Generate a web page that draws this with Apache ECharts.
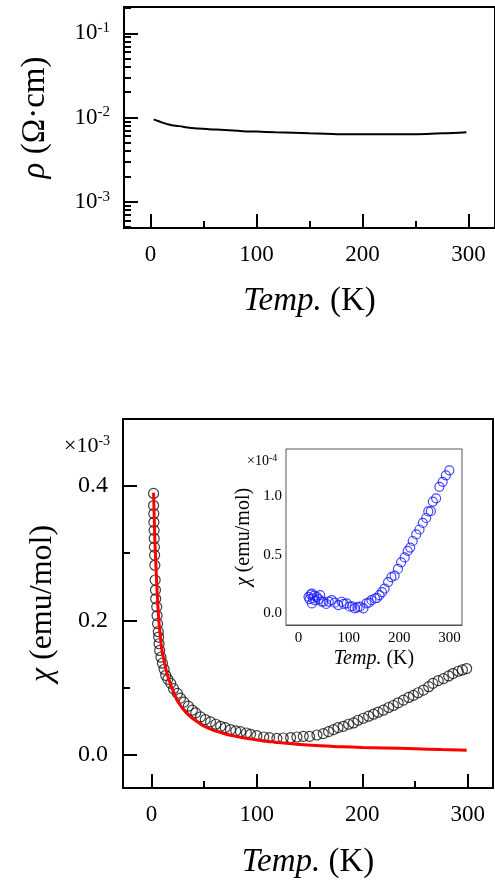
<!DOCTYPE html>
<html>
<head>
<meta charset="utf-8">
<script src="https://cdn.jsdelivr.net/npm/echarts@6.0.0/dist/echarts.min.js"></script>
<style>
html, body { margin: 0; padding: 0; background: #fff; }
#chart { width: 495px; height: 880px; }
</style>
</head>
<body>
<div id="chart"></div>
<script>
// resistivity vs temperature (top panel)
const rhoTemp = [3, 5, 10, 15, 20, 27, 35, 45, 55, 70, 87, 100, 118, 135, 150, 165, 181, 200, 212, 230, 244, 260, 269, 285, 298];
const rhoValue = [0.0095, 0.0093, 0.0088, 0.0084, 0.0081, 0.0079, 0.0076, 0.0074, 0.00726, 0.0071, 0.00687, 0.0068, 0.00668, 0.0066, 0.00651, 0.00643, 0.00634, 0.00632, 0.00632, 0.00632, 0.00633, 0.00638, 0.00645, 0.00655, 0.00668];

// susceptibility (x10^-3), open black circles
const chiTemp = [2, 2, 2.2, 2.3, 2.5, 2.6, 2.8, 3, 3.2, 3.5, 3.8, 4, 5, 5.3, 5.8, 6.5, 6.8, 7.2, 7.8, 9, 10.4, 12, 13.5, 15.5, 18.3, 21, 24.6, 27.5, 30.8, 35, 38.8, 42, 46.6, 51, 56, 61, 65.6, 70, 75, 80, 84.5, 90, 94, 100, 106.5, 112, 119, 125, 132, 138, 144, 150, 157, 163, 168, 172.8, 177, 182, 187, 191.7, 196, 201, 206, 210.6, 215, 220, 225, 229.5, 234, 239, 244, 248.5, 253, 258, 263, 267, 272, 277, 282, 286, 291, 295, 299];
const chiValue = [0.389, 0.371, 0.359, 0.346, 0.334, 0.322, 0.309, 0.297, 0.282, 0.26, 0.245, 0.232, 0.22, 0.207, 0.195, 0.183, 0.175, 0.165, 0.155, 0.145, 0.136, 0.127, 0.118, 0.112, 0.106, 0.098, 0.091, 0.084, 0.078, 0.072, 0.066, 0.062, 0.056, 0.052, 0.0486, 0.045, 0.042, 0.04, 0.037, 0.035, 0.034, 0.032, 0.03, 0.028, 0.026, 0.025, 0.024, 0.0245, 0.025, 0.026, 0.027, 0.027, 0.029, 0.031, 0.034, 0.037, 0.04, 0.042, 0.045, 0.047, 0.051, 0.054, 0.057, 0.06, 0.063, 0.066, 0.07, 0.073, 0.077, 0.081, 0.085, 0.088, 0.092, 0.096, 0.101, 0.106, 0.11, 0.113, 0.117, 0.1206, 0.124, 0.126, 0.128];

// fit curve (red)
const fitTemp = [2, 3, 4, 5, 6, 7, 8.5, 10, 12, 14, 16.7, 20, 23, 27, 32.5, 38, 43.5, 50, 59, 67, 75, 90, 106, 120, 138, 160, 180, 200, 220, 250, 275, 299];
const fitValue = [0.39, 0.33, 0.29, 0.255, 0.225, 0.2, 0.175, 0.155, 0.14, 0.125, 0.111, 0.097, 0.086, 0.074, 0.063, 0.055, 0.0486, 0.042, 0.036, 0.032, 0.0287, 0.024, 0.0203, 0.0178, 0.0153, 0.0128, 0.0115, 0.0105, 0.0098, 0.0085, 0.0073, 0.0064];

// inset (x10^-4), blue circles
const insetTemp = [19.8, 22, 24, 26.5, 26.5, 28.7, 31, 33, 36.3, 40, 42.9, 46, 49.4, 55, 60, 66, 72, 79, 85.8, 90, 95.6, 102, 107, 112, 117, 122, 129, 135, 140, 145, 152, 156, 161, 166, 171, 178, 184.6, 191, 197.6, 204, 211, 217, 222, 227, 234, 240.5, 247, 253.7, 258, 263, 267, 273.5, 280, 286.6, 293, 299.8];
const insetValue = [0.14, 0.12, 0.16, 0.168, 0.084, 0.126, 0.15, 0.11, 0.14, 0.12, 0.154, 0.1, 0.098, 0.08, 0.1, 0.112, 0.09, 0.07, 0.098, 0.08, 0.084, 0.056, 0.06, 0.042, 0.05, 0.056, 0.042, 0.084, 0.09, 0.112, 0.126, 0.13, 0.154, 0.18, 0.21, 0.266, 0.308, 0.32, 0.378, 0.434, 0.476, 0.532, 0.56, 0.616, 0.672, 0.714, 0.77, 0.812, 0.868, 0.87, 0.952, 0.98, 1.078, 1.12, 1.176, 1.218];

// tick positions
const tempMajor = [0, 100, 200, 300];
const tempMinor = [50, 150, 250];
const rhoMajor = [0.001, 0.01, 0.1];
const rhoMinor = [0.0005, 0.0006, 0.0007, 0.0008, 0.0009, 0.002, 0.003, 0.004, 0.005, 0.006, 0.007, 0.008, 0.009, 0.02, 0.03, 0.04, 0.05, 0.06, 0.07, 0.08, 0.09, 0.2];
const chiMajor = [0, 0.2, 0.4];
const chiMinor = [0.1, 0.3];
const insetMajor = [0, 0.5, 1.0];
const insetMinor = [0.1, 0.2, 0.3, 0.4, 0.6, 0.7, 0.8, 0.9, 1.1, 1.2, 1.3];

const FONT = 'Liberation Serif';
const zip = (a, b) => a.map((v, i) => [v, b[i]]);

const chart = echarts.init(document.getElementById('chart'));

function xAxisPair(grid, min, max, len, width, labelSize, labelMargin, name, nameSize, nameGap, color) {
  return [{
    type: 'value', gridIndex: grid, min: min, max: max, position: 'bottom',
    axisLine: { show: true, onZero: false, lineStyle: { color: color, width: width } },
    axisTick: { show: true, inside: true, length: len, customValues: tempMajor, lineStyle: { color: color, width: width } },
    axisLabel: { show: true, customValues: tempMajor, margin: labelMargin, fontFamily: FONT, fontSize: labelSize, color: '#000' },
    splitLine: { show: false },
    name: name, nameLocation: 'middle', nameGap: nameGap,
    nameTextStyle: { fontFamily: FONT, fontSize: nameSize, color: '#000',
      rich: { i: { fontFamily: FONT, fontSize: nameSize, fontStyle: 'italic', color: '#000' } } }
  }, {
    type: 'value', gridIndex: grid, min: min, max: max, position: 'bottom',
    axisLine: { show: false, onZero: false },
    axisTick: { show: true, inside: true, length: len / 2, customValues: tempMinor, lineStyle: { color: color, width: width } },
    axisLabel: { show: false },
    splitLine: { show: false }
  }];
}

function yAxisPair(grid, type, min, max, major, minor, len, width, labelSize, labelMargin, fmt, name, nameSize, nameGap, color) {
  return [{
    type: type, gridIndex: grid, min: min, max: max, position: 'left',
    axisLine: { show: true, onZero: false, lineStyle: { color: color, width: width } },
    axisTick: { show: true, inside: true, length: len, customValues: major, lineStyle: { color: color, width: width } },
    axisLabel: { show: true, customValues: major, margin: labelMargin, formatter: fmt, fontFamily: FONT, fontSize: labelSize, color: '#000',
      rich: {
        n: { fontFamily: FONT, fontSize: labelSize, color: '#000' },
        s: { fontFamily: FONT, fontSize: Math.round(labelSize * 0.65), color: '#000', verticalAlign: 'top', padding: [0, 0, 10, 0] }
      } },
    splitLine: { show: false },
    name: name, nameLocation: 'middle', nameGap: nameGap, nameRotate: 90,
    nameTextStyle: { fontFamily: FONT, fontSize: nameSize, color: '#000',
      rich: { i: { fontFamily: FONT, fontSize: nameSize, fontStyle: 'italic', color: '#000' } } }
  }, {
    type: type, gridIndex: grid, min: min, max: max, position: 'left',
    axisLine: { show: false, onZero: false },
    axisTick: { show: true, inside: true, length: len / 2, customValues: minor, lineStyle: { color: color, width: width } },
    axisLabel: { show: false },
    splitLine: { show: false }
  }];
}

const powFmt = v => '{n|10}{s|' + Math.round(Math.log10(v)) + '}';

const option = {
  animation: false,
  backgroundColor: '#fff',
  grid: [
    { left: 124, top: 7, width: 372, height: 221, show: true, borderColor: '#000', borderWidth: 2, backgroundColor: 'transparent' },
    { left: 123, top: 419, width: 370, height: 370, show: true, borderColor: '#000', borderWidth: 2, backgroundColor: 'transparent' },
    { left: 286, top: 449, width: 176, height: 176, show: true, borderColor: '#555', borderWidth: 1, backgroundColor: '#fff', z: 5 }
  ],
  xAxis: [].concat(
    xAxisPair(0, -25, 325, 14, 2, 23, 15, '{i|Temp.} (K)', 33, 57, '#000'),
    xAxisPair(1, -27, 324, 14, 2, 23, 15, '{i|Temp.} (K)', 33, 58, '#000'),
    xAxisPair(2, -25, 325, 6, 1, 15, 6, '{i|Temp.} (K)', 20, 24, '#555')
  ),
  yAxis: [].concat(
    yAxisPair(0, 'log', Math.pow(10, -3.312), Math.pow(10, -0.688), rhoMajor, rhoMinor, 14, 2, 23, 14, powFmt, '{i|ρ} (Ω·cm)', 33, 72, '#000'),
    yAxisPair(1, 'value', -0.05, 0.5, chiMajor, chiMinor, 14, 2, 24, 15, v => v.toFixed(1), '{i|χ} (emu/mol)', 32, 64, '#000'),
    yAxisPair(2, 'value', -0.1, 1.4, insetMajor, insetMinor, 6, 1, 15, 4, v => v.toFixed(1), '{i|χ} (emu/mol)', 20, 32, '#555')
  ),
  graphic: [
    { type: 'text', left: 64, top: 434, z: 10,
      style: { text: '{m|×10}{s|-3}', rich: {
        m: { fontFamily: FONT, fontSize: 22, fill: '#000' },
        s: { fontFamily: FONT, fontSize: 14, fill: '#000', verticalAlign: 'top', padding: [0, 0, 10, 0] } } } },
    { type: 'text', left: 247, top: 453, z: 10,
      style: { text: '{m|×10}{s|-4}', rich: {
        m: { fontFamily: FONT, fontSize: 14, fill: '#000' },
        s: { fontFamily: FONT, fontSize: 10, fill: '#000', verticalAlign: 'top', padding: [0, 0, 6, 0] } } } }
  ],
  series: [
    { type: 'line', xAxisIndex: 0, yAxisIndex: 0, data: zip(rhoTemp, rhoValue), smooth: true, showSymbol: false,
      lineStyle: { color: '#000', width: 2 } },
    { type: 'scatter', xAxisIndex: 2, yAxisIndex: 2, data: zip(chiTemp, chiValue), symbol: 'circle', symbolSize: 10,
      itemStyle: { color: 'rgba(0,0,0,0)', borderColor: '#111', borderWidth: 1.2 } },
    { type: 'line', xAxisIndex: 2, yAxisIndex: 2, data: zip(fitTemp, fitValue), smooth: true, showSymbol: false, z: 3,
      lineStyle: { color: '#f00', width: 3 } },
    { type: 'scatter', xAxisIndex: 4, yAxisIndex: 4, data: zip(insetTemp, insetValue), symbol: 'circle', symbolSize: 9, z: 6,
      itemStyle: { color: 'rgba(0,0,0,0)', borderColor: '#1a1aff', borderWidth: 1.2 } }
  ]
};

chart.setOption(option);
</script>
</body>
</html>
